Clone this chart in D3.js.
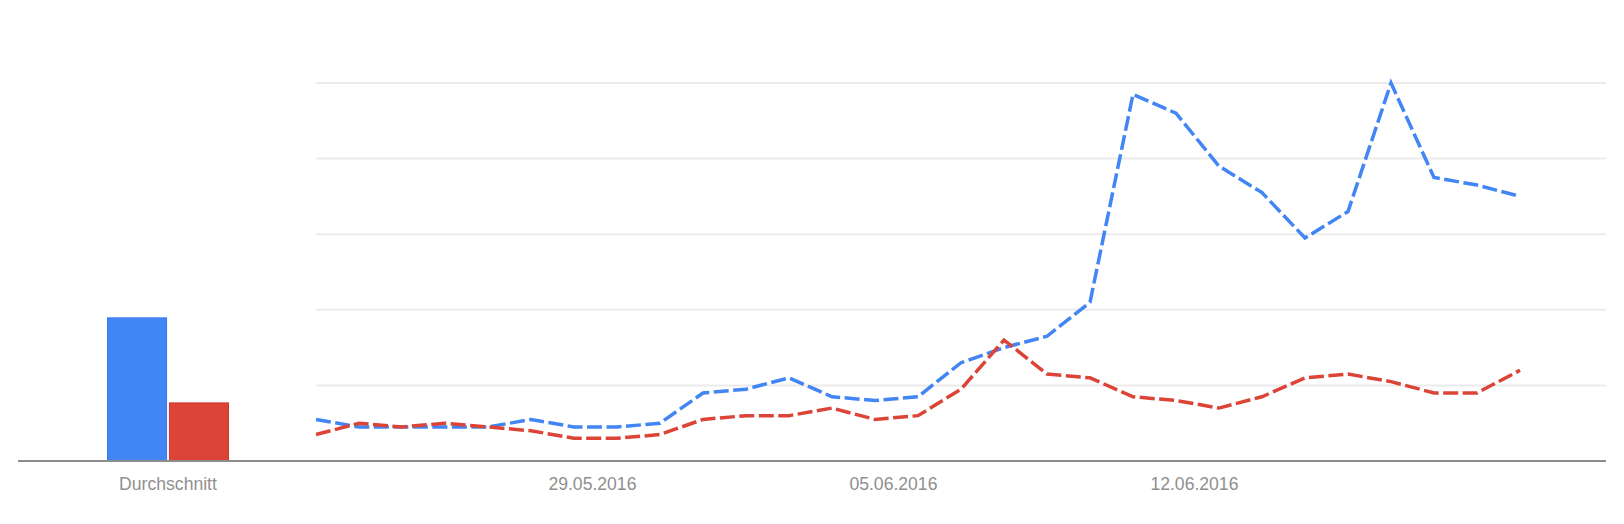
<!DOCTYPE html>
<html>
<head>
<meta charset="utf-8">
<script src="https://cdn.jsdelivr.net/npm/d3@7"></script>
<style>
  body { margin: 0; background: #fff; }
  text { font-family: "Liberation Sans", Arial, sans-serif; }
</style>
</head>
<body>
<div id="chart"></div>
<script>
// daily values, 23.05.2016 - 20.06.2016
let days = d3.timeDays(new Date(2016, 4, 23), new Date(2016, 5, 21));

let blueValues = [11, 9, 9, 9, 9, 11, 9, 9, 10, 18, 19, 22, 17, 16, 17, 26, 30, 33, 42, 97, 92, 78, 71, 59, 66, 100, 75, 73, 70];
let redValues = [7, 10, 9, 10, 9, 8, 6, 6, 7, 11, 12, 12, 14, 11, 12, 19, 32, 23, 22, 17, 16, 14, 17, 22, 23, 21, 18, 18, 24];

let seriesNames = ["Begriff 1", "Begriff 2"];
let averages = [38, 15.5];
let averageLabel = "Durchschnitt";

let tickDates = ["2016-05-29T10:00", "2016-06-05T10:00", "2016-06-12T10:00"];
let gridValues = [20, 40, 60, 80, 100];

let colors = ["#4285f4", "#db4437"];
let borders = ["#3a7ae8", "#c9382c"];

var w = 1624,
	h = 524;

var svg = d3.select("#chart").append("svg").attr("width", w).attr("height", h);

let y = d3.scaleLinear().domain([0, 100]).range([461, 83]);

let x = d3
	.scaleTime()
	.domain([days[0], days[days.length - 1]])
	.range([316, 1520]);

// gridlines
svg
	.append("g")
	.selectAll("line")
	.data(gridValues)
	.enter()
	.append("line")
	.attr("x1", 316)
	.attr("x2", 1606)
	.attr("y1", (d) => y(d))
	.attr("y2", (d) => y(d))
	.attr("stroke", "#ebebeb")
	.attr("stroke-width", 2);

// average bars
let band = d3.scaleBand().domain(seriesNames).range([107, 229]).paddingInner(0.03);

svg
	.append("g")
	.selectAll("rect")
	.data(averages)
	.enter()
	.append("rect")
	.attr("x", (d, i) => band(seriesNames[i]) + 0.5)
	.attr("y", (d) => y(d) + 0.5)
	.attr("width", band.bandwidth() - 1)
	.attr("height", (d) => y(0) - y(d) - 0.5)
	.attr("fill", (d, i) => colors[i])
	.attr("stroke", (d, i) => borders[i])
	.attr("stroke-width", 1);

svg
	.append("text")
	.attr("x", 107 + (229 - 107) / 2)
	.attr("y", 490)
	.attr("text-anchor", "middle")
	.attr("font-size", "17.6px")
	.attr("fill", "#8f8f8f")
	.text(averageLabel);

// lines
let line = d3
	.line()
	.x((d, i) => x(days[i]))
	.y((d) => y(d));

[blueValues, redValues].forEach(function (values, k) {
	svg
		.append("path")
		.datum(values)
		.attr("d", line)
		.attr("fill", "none")
		.attr("stroke", colors[k])
		.attr("stroke-width", 3.5)
		.attr("stroke-dasharray", "15,4.5")
		.attr("stroke-linejoin", "miter");
});

// baseline
svg
	.append("line")
	.attr("x1", 18)
	.attr("x2", 1606)
	.attr("y1", y(0))
	.attr("y2", y(0))
	.attr("stroke", "#8c8c8c")
	.attr("stroke-width", 2);

// x axis labels
let xAxis = d3
	.axisBottom(x)
	.tickValues(tickDates.map((d) => new Date(d)))
	.tickSize(0)
	.tickPadding(0)
	.tickFormat(d3.timeFormat("%d.%m.%Y"));

let axisG = svg.append("g").attr("transform", "translate(0, 490)").call(xAxis);
axisG.select(".domain").remove();
axisG
	.selectAll("text")
	.attr("dy", 0)
	.attr("y", 0)
	.attr("font-size", "17.6px")
	.attr("font-family", "Liberation Sans, Arial, sans-serif")
	.attr("fill", "#8f8f8f");
</script>
</body>
</html>
